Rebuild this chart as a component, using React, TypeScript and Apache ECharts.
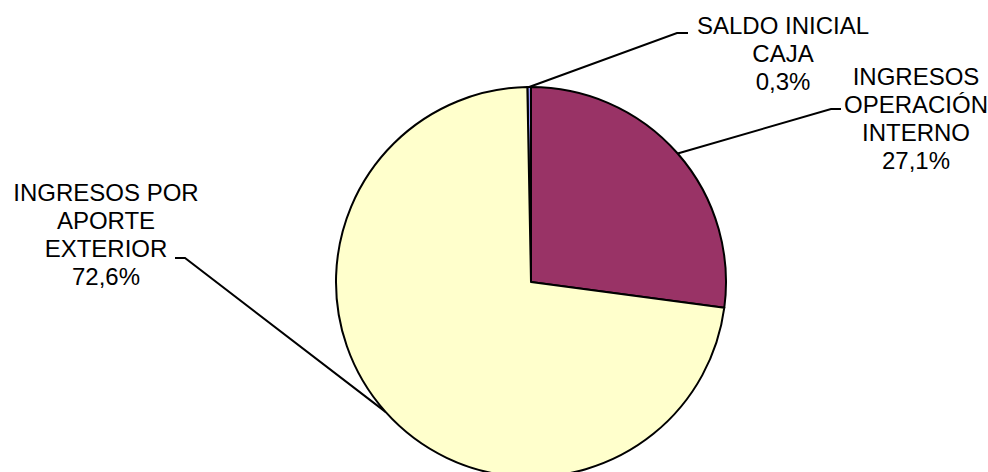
import React, { useEffect, useRef } from "react";
import * as echarts from "echarts";

const categories = [
  "SALDO INICIAL\nCAJA",
  "INGRESOS\nOPERACIÓN\nINTERNO",
  "INGRESOS POR\nAPORTE\nEXTERIOR",
];
const shares = [0.3, 27.1, 72.6];
const sliceColors = ["#9999FF", "#993366", "#FFFFCC"];

// label layout (text anchor, elbow of the leader line, end of the leader line)
const labelAnchors = [
  [783, 11],
  [916, 62],
  [106, 178],
];
const lineElbows = [
  [677, 33],
  [831, 109],
  [185, 258],
];
const lineEnds = [
  [688, 33],
  [841, 109],
  [175, 258],
];

export default function App() {
  const ref = useRef<HTMLDivElement>(null);
  useEffect(() => {
    if (!ref.current) return;
    const chart = echarts.init(ref.current, undefined, { renderer: "svg" });
    const total = shares.reduce((a, b) => a + b, 0);
    chart.setOption({
      animation: false,
      backgroundColor: "#ffffff",
      series: [
        {
          type: "pie",
          center: [531, 282],
          radius: 195,
          // the small first slice sits just left of twelve o'clock
          startAngle: 90 + (shares[0] / total) * 360,
          clockwise: true,
          silent: true,
          data: categories.map((name, i) => ({
            name,
            value: shares[i],
            itemStyle: { color: sliceColors[i] },
          })),
          itemStyle: { borderColor: "#000000", borderWidth: 2 },
          emphasis: { disabled: true },
          label: {
            show: true,
            position: "outside",
            color: "#000000",
            fontFamily: "'Liberation Sans', Arial, sans-serif",
            fontSize: 24,
            lineHeight: 28,
            formatter: (p: any) =>
              p.name + "\n" + Number(p.value).toFixed(1).replace(".", ",") + "%",
          },
          labelLine: {
            show: true,
            lineStyle: { color: "#000000", width: 2 },
          },
          labelLayout: (params: any) => {
            const i = params.dataIndex;
            const start = params.labelLinePoints ? params.labelLinePoints[0] : lineElbows[i];
            return {
              x: labelAnchors[i][0],
              y: labelAnchors[i][1],
              align: "center",
              verticalAlign: "top",
              labelLinePoints: [start, lineElbows[i], lineEnds[i]],
            };
          },
        },
      ],
    });
    return () => chart.dispose();
  }, []);
  return (
    <div
      ref={ref}
      style={{ position: "fixed", left: 0, top: 0, width: 988, height: 472 }}
    />
  );
}
